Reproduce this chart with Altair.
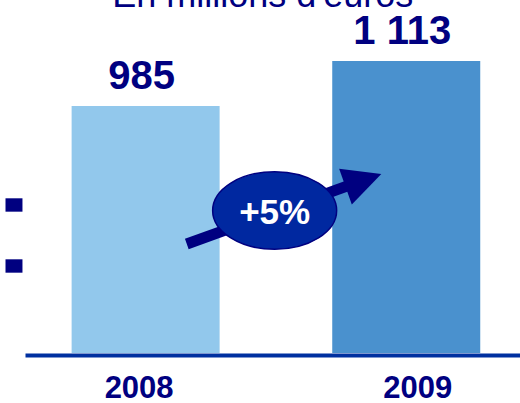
import altair as alt
import pandas as pd

# ---- data ----
YEARS = [2008, 2009]
VALUES = [985, 1113]
VALUE_LABELS = ["985", "1 113"]
BAR_COLORS = ["#92C8EC", "#4A91CE"]
SUBTITLE = "En millions d'euros"
GROWTH_LABEL = "+5%"

# value axis starts above zero in the original chart
AXIS_MIN = 280
X_DOMAIN = [2007.5564, 2009.4173]
Y_DOMAIN = [AXIS_MIN, 1287.4]

NAVY = "#000080"
FONT = "Liberation Sans"

# annotation anchors, in data units (year, value)
ARROW_X = [2008.158, 2008.783]
ARROW_Y = [591, 758.9]
HEAD_X = [2008.8356]
HEAD_Y = [773.0]
ELLIPSE_X = [2008.4951]
ELLIPSE_Y = [686.7]
MARK_X = [2007.4624, 2007.4624]
MARK_X2 = [2007.5275, 2007.5275]
MARK_Y = [721.5, 547.4]
MARK_Y2 = [683.3, 509.2]
TITLE_X = [2008.4493]
TITLE_Y = [1267.4]

bars_df = pd.DataFrame({"year": YEARS, "value": VALUES,
                        "label": VALUE_LABELS, "color": BAR_COLORS})
arrow_df = pd.DataFrame({"year": ARROW_X, "value": ARROW_Y, "o": [0, 1]})
head_df = pd.DataFrame({"year": HEAD_X, "value": HEAD_Y})
ell_df = pd.DataFrame({"year": ELLIPSE_X, "value": ELLIPSE_Y, "label": [GROWTH_LABEL]})
marks_df = pd.DataFrame({"year": MARK_X, "year2": MARK_X2,
                         "value": MARK_Y, "value2": MARK_Y2})
title_df = pd.DataFrame({"year": TITLE_X, "value": TITLE_Y, "label": [SUBTITLE]})

xs = alt.Scale(domain=X_DOMAIN, nice=False, zero=False)
ys = alt.Scale(domain=Y_DOMAIN, nice=False, zero=False)

bars = alt.Chart(bars_df).mark_bar(size=148).encode(
    x=alt.X("year:Q", scale=xs, title=None,
            axis=alt.Axis(values=YEARS, format="d", grid=False, ticks=False,
                          tickSize=0, domainColor="#0030A0", domainWidth=4,
                          offset=2, labelFont=FONT, labelFontSize=31,
                          labelFontWeight="bold", labelColor=NAVY,
                          labelPadding=18, labelFlush=False,
                          labelOffset={"condition": {"test": "datum.value == 2008",
                                                     "value": -7},
                                       "value": 11})),
    y=alt.Y("value:Q", scale=ys, axis=None),
    y2=alt.datum(AXIS_MIN),
    color=alt.Color("color:N", scale=None),
)

value_text = alt.Chart(bars_df).mark_text(
    dy=-17, dx=-4, fontSize=40, fontWeight="bold", font=FONT, color=NAVY,
    baseline="alphabetic", align="center"
).encode(x="year:Q", y="value:Q", text="label:N")

shaft = alt.Chart(arrow_df).mark_line(
    strokeWidth=11, color=NAVY, strokeCap="butt"
).encode(x="year:Q", y="value:Q", order="o:Q")

head = alt.Chart(head_df).mark_point(
    shape="M1,0L-1,-1L-1,1Z", size=1444, angle=340.5, filled=True,
    color=NAVY, opacity=1, strokeWidth=0
).encode(x="year:Q", y="value:Q")

ellipse = alt.Chart(ell_df).mark_point(
    shape="M-1,0A1,0.626 0 1,1 1,0A1,0.626 0 1,1 -1,0Z", size=15376,
    filled=True, fill="#0028A0", stroke=NAVY, strokeWidth=1.5, opacity=1
).encode(x="year:Q", y="value:Q")

growth = alt.Chart(ell_df).mark_text(
    fontSize=35, fontWeight="bold", font=FONT, color="white",
    baseline="middle", align="center", dy=3
).encode(x="year:Q", y="value:Q", text="label:N")

left_marks = alt.Chart(marks_df).mark_rect(color=NAVY).encode(
    x="year:Q", x2="year2:Q", y="value:Q", y2="value2:Q")

title = alt.Chart(title_df).mark_text(
    fontSize=36, font=FONT, color=NAVY, baseline="alphabetic", align="center"
).encode(x="year:Q", y="value:Q", text="label:N")

chart = alt.layer(
    bars, value_text, shaft, head, ellipse, growth, left_marks, title
).properties(
    width=495, height=353,
    padding={"left": 25, "top": 0, "right": 0, "bottom": 50},
    autosize=alt.AutoSizeParams(type="none"),
    background="white",
).configure_view(stroke=None)

chart.save("out.html", embed_options={"renderer": "svg", "actions": False})
